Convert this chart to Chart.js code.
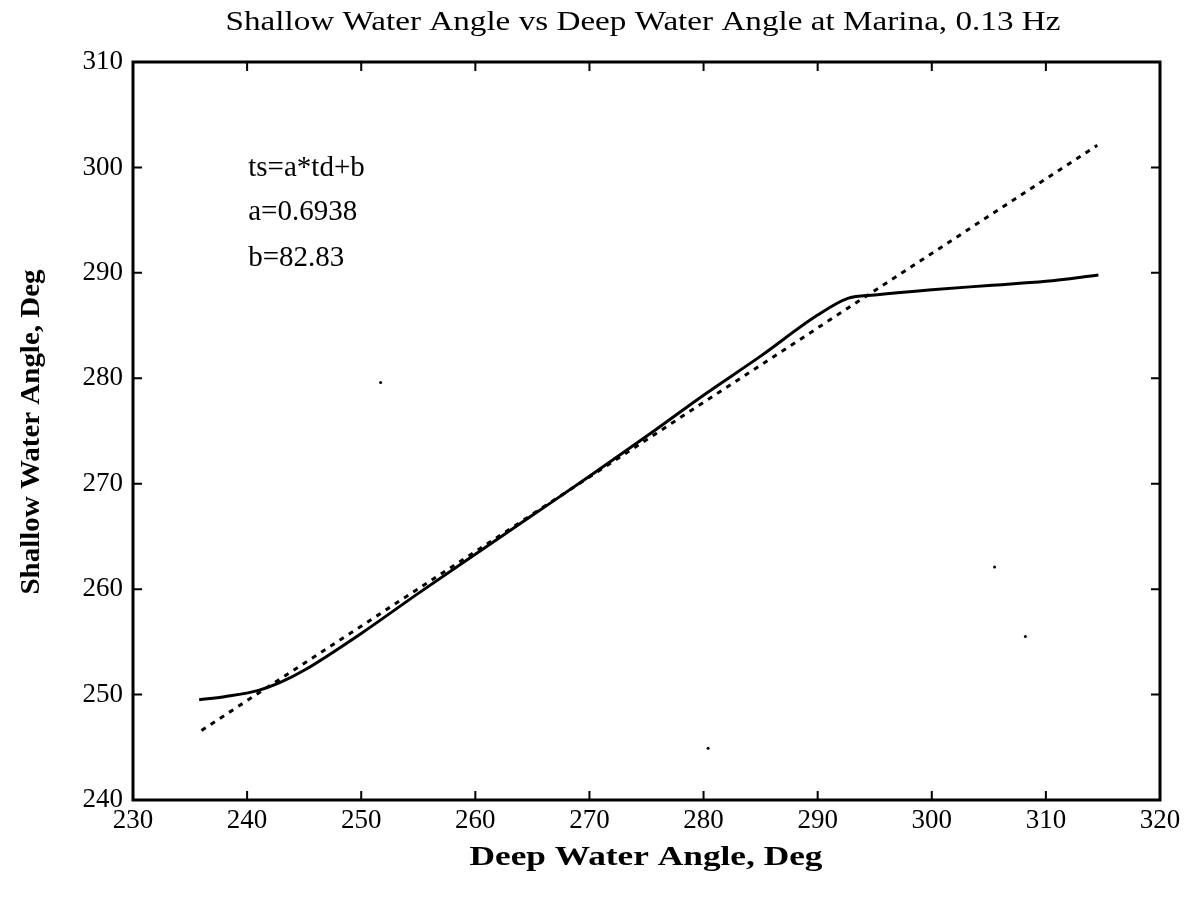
<!DOCTYPE html>
<html>
<head>
<meta charset="utf-8">
<script src="https://cdn.jsdelivr.net/npm/chart.js@4/dist/chart.umd.min.js"></script>
<style>
  html, body { margin: 0; padding: 0; background: #fff; }
  #wrap { width: 1191px; height: 904px; }
</style>
</head>
<body>
<div id="wrap"><canvas id="angleChart" width="1191" height="904"></canvas></div>
<script>
// measured shallow water angle vs deep water angle (deg)
const deepAngle    = [235.8, 238, 241, 243, 245, 250, 255, 260, 265, 270, 275, 280, 285, 290, 292.7, 295, 300, 305, 310, 314.6];
const shallowAngle = [249.5, 249.8, 250.4, 251.2, 252.3, 255.8, 259.6, 263.3, 267.0, 270.7, 274.5, 278.4, 282.1, 286.0, 287.6, 287.9, 288.4, 288.8, 289.2, 289.8];

// linear fit ts = a*td + b, endpoints
const fitDeep    = [236.0, 314.5];
const fitShallow = [246.6, 302.1];

// stray specks on the scan
const speckDeep    = [251.7, 280.4, 305.5, 308.2];
const speckShallow = [279.6, 244.9, 262.1, 255.5];

const xTicks = [230, 240, 250, 260, 270, 280, 290, 300, 310, 320];
const yTicks = [240, 250, 260, 270, 280, 290, 300, 310];

const titleText = "Shallow Water Angle vs Deep Water Angle at Marina, 0.13 Hz";
const xLabel = "Deep Water Angle, Deg";
const yLabel = "Shallow Water Angle, Deg";
const fitNotes = ["ts=a*td+b", "a=0.6938", "b=82.83"];
const fitNoteY = [299.9, 295.7, 291.4];

const SERIF = "'Liberation Serif', 'DejaVu Serif', serif";

function toPoints(xs, ys) {
  return xs.map((x, i) => ({ x: x, y: ys[i] }));
}

// draw centred text stretched to a given width (the scan is wide)
function wideText(ctx, text, x, y, width) {
  const w = ctx.measureText(text).width;
  ctx.save();
  ctx.translate(x, y);
  ctx.scale(width / w, 1);
  ctx.textAlign = "center";
  ctx.fillText(text, 0, 0);
  ctx.restore();
}

// frame, inward ticks and text, matlab style
const framePlugin = {
  id: "frame",
  afterDatasetsDraw(chart) {
    const { ctx, chartArea: a, scales } = chart;
    ctx.save();
    ctx.strokeStyle = "#000";
    ctx.lineWidth = 3;
    ctx.strokeRect(a.left, a.top, a.right - a.left, a.bottom - a.top);
    ctx.lineWidth = 2;
    xTicks.forEach(v => {
      const px = scales.x.getPixelForValue(v);
      ctx.beginPath();
      ctx.moveTo(px, a.bottom); ctx.lineTo(px, a.bottom - 9);
      ctx.moveTo(px, a.top); ctx.lineTo(px, a.top + 9);
      ctx.stroke();
    });
    yTicks.forEach(v => {
      const py = scales.y.getPixelForValue(v);
      ctx.beginPath();
      ctx.moveTo(a.left, py); ctx.lineTo(a.left + 9, py);
      ctx.moveTo(a.right, py); ctx.lineTo(a.right - 9, py);
      ctx.stroke();
    });

    ctx.fillStyle = "#000";
    ctx.textBaseline = "middle";
    ctx.font = "28px " + SERIF;
    wideText(ctx, titleText, 643, 23, 835);
    ctx.font = "bold 27px " + SERIF;
    wideText(ctx, xLabel, 646, 858, 353);
    ctx.save();
    ctx.translate(32, 432);
    ctx.rotate(-Math.PI / 2);
    wideText(ctx, yLabel, 0, 0, 325);
    ctx.restore();

    ctx.textAlign = "left";
    ctx.font = "29px " + SERIF;
    const tx = scales.x.getPixelForValue(240.1);
    fitNotes.forEach((t, i) => {
      ctx.fillText(t, tx, scales.y.getPixelForValue(fitNoteY[i]));
    });
    ctx.restore();
  }
};

const chart = new Chart(document.getElementById("angleChart"), {
  type: "scatter",
  data: {
    datasets: [
      {
        label: "measured",
        data: toPoints(deepAngle, shallowAngle),
        showLine: true,
        borderColor: "#000",
        borderWidth: 3,
        pointRadius: 0,
        cubicInterpolationMode: "monotone"
      },
      {
        label: "fit",
        data: toPoints(fitDeep, fitShallow),
        showLine: true,
        borderColor: "#000",
        borderWidth: 3,
        borderDash: [5, 6],
        pointRadius: 0
      },
      {
        label: "specks",
        data: toPoints(speckDeep, speckShallow),
        backgroundColor: "#000",
        borderWidth: 0,
        pointRadius: 1.5
      }
    ]
  },
  options: {
    responsive: false,
    animation: false,
    layout: { padding: { top: 62, right: 31, left: 0, bottom: 0 } },
    plugins: {
      legend: { display: false },
      tooltip: { enabled: false }
    },
    scales: {
      x: {
        type: "linear",
        min: 230,
        max: 320,
        afterBuildTicks: s => { s.ticks = xTicks.map(v => ({ value: v })); },
        afterFit: s => { s.height = 104; },
        grid: { display: false, drawTicks: false },
        border: { display: false },
        ticks: { color: "#000", padding: 5, font: { family: SERIF, size: 27 } }
      },
      y: {
        type: "linear",
        min: 240,
        max: 310,
        afterBuildTicks: s => { s.ticks = yTicks.map(v => ({ value: v })); },
        afterFit: s => { s.width = 133; },
        grid: { display: false, drawTicks: false },
        border: { display: false },
        ticks: { color: "#000", padding: 10, font: { family: SERIF, size: 27 } }
      }
    }
  },
  plugins: [framePlugin]
});
</script>
</body>
</html>
